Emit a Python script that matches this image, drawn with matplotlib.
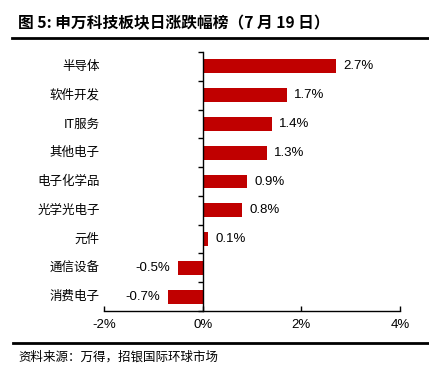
import matplotlib
matplotlib.use('Agg')
import matplotlib.pyplot as plt
import matplotlib.transforms as mtransforms
from matplotlib.lines import Line2D

plt.rcParams['font.family'] = ['Noto Sans CJK SC', 'DejaVu Sans']

# data
sectors = ['半导体', '软件开发', 'IT服务', '其他电子', '电子化学品',
           '光学光电子', '元件', '通信设备', '消费电子']
changes = [2.7, 1.7, 1.4, 1.3, 0.9, 0.8, 0.1, -0.5, -0.7]
xticks = [-2, 0, 2, 4]
xticklabels = ['-2%', '0%', '2%', '4%']

bar_color = '#C00000'
num_font = ['Liberation Sans', 'DejaVu Sans']

fig = plt.figure(figsize=(4.29, 3.73), dpi=100)
ax = fig.add_axes([0.2424, 0.1662, 0.69, 0.6944])

y = list(range(len(sectors)))
ax.barh(y, changes, height=0.48, color=bar_color)

ax.set_xlim(-2, 4)
ax.set_ylim(len(sectors) - 0.5, -0.5)

for sp in ['top', 'right']:
    ax.spines[sp].set_visible(False)
ax.spines['left'].set_position(('data', 0))
ax.spines['left'].set_linewidth(1.0)
ax.spines['bottom'].set_linewidth(1.0)

ax.set_yticks([])
ax.set_yticks([i - 0.5 for i in range(len(sectors) + 1)], minor=True)
ax.tick_params(axis='y', which='minor', direction='out', length=3.5, width=1.0)

ax.set_xticks(xticks)
ax.set_xticklabels(xticklabels, fontsize=9.5, family=num_font)
ax.tick_params(axis='x', direction='in', length=3.5, width=1.0, pad=6)

# category labels at the left edge of the axes
trans = mtransforms.blended_transform_factory(ax.transAxes, ax.transData)
for i, name in enumerate(sectors):
    ax.text(-0.015, i, name, transform=trans, ha='right', va='center', fontsize=9)

# value labels
for i, v in enumerate(changes):
    if v >= 0:
        ax.annotate(f'{v:.1f}%', (v, i), xytext=(5.5, 0), textcoords='offset points',
                    ha='left', va='center', fontsize=9.5, family=num_font)
    else:
        ax.annotate(f'{v:.1f}%', (v, i), xytext=(-5.5, 0), textcoords='offset points',
                    ha='right', va='center', fontsize=9.5, family=num_font)

# title and rules
fig.text(0.042, 0.938, '图 5: 申万科技板块日涨跌幅榜（7 月 19 日）', fontsize=11.3,
         fontweight='bold', ha='left', va='center')
fig.add_artist(Line2D([0.028, 1.0], [0.898, 0.898], color='black', lw=2.0,
                      transform=fig.transFigure))
fig.add_artist(Line2D([0.030, 1.0], [0.080, 0.080], color='black', lw=2.0,
                      transform=fig.transFigure))
fig.text(0.042, 0.043, '资料来源：万得，招银国际环球市场', fontsize=9,
         ha='left', va='center')

fig.savefig('out.png', dpi=100)
